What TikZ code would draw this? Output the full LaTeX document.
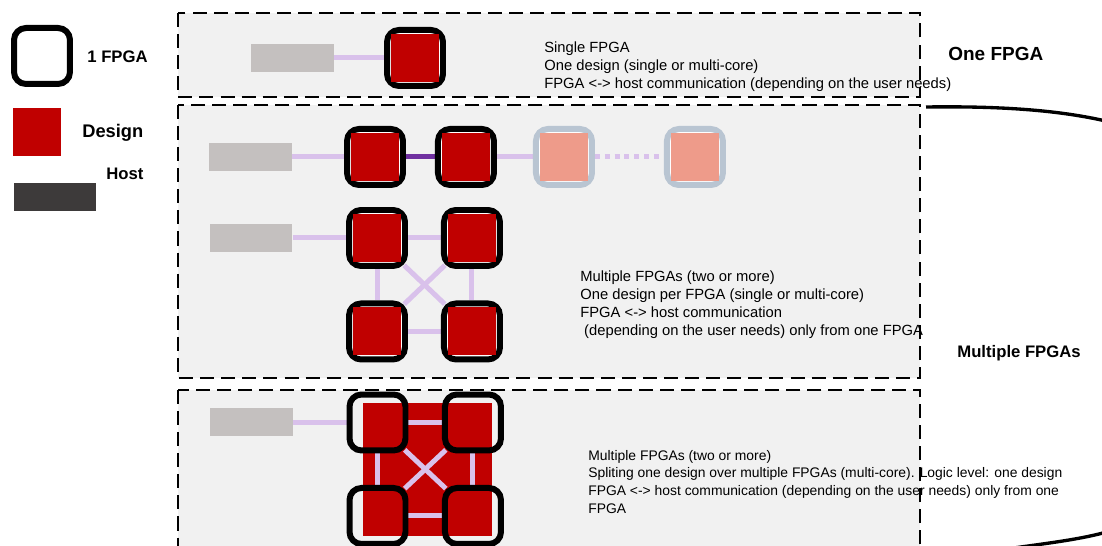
\documentclass[tikz,border=0pt]{standalone}
\usepackage{fontspec}
\setmainfont{Liberation Sans}
\usetikzlibrary{positioning}
\definecolor{designred}{HTML}{C00000}
\definecolor{sparered}{HTML}{EE9B8A}
\definecolor{spareline}{HTML}{B9C5D2}
\definecolor{hostgray}{HTML}{C4C0BF}
\definecolor{hostdark}{HTML}{3D3A3A}
\definecolor{linklight}{HTML}{D9C1EB}
\definecolor{linkdark}{HTML}{7030A0}
\definecolor{panelgray}{HTML}{F1F1F1}
\pgfdeclarelayer{panels}
\pgfdeclarelayer{links}
\pgfsetlayers{panels,links,main}
\tikzset{
x=0.02cm, y=-0.02cm, % one unit is one pixel of the sketch
fpga/.style={draw=black, fill=white, line width=0.12cm, rounded corners=0.24cm, minimum size=1.12cm, inner sep=0pt}, % frame of one FPGA
spare/.style={fpga, draw=spareline}, % an FPGA that can be added
design/.style={fill=designred, minimum size=0.96cm, inner sep=0pt}, % the red design block
host/.style={fill=hostgray, minimum width=1.66cm, minimum height=0.56cm, inner sep=0pt}, % the host
link/.style={draw=linklight, line width=0.1cm}, % connection between boxes
panel/.style={draw=black, fill=panelgray, line width=1.4pt, dash pattern=on 8pt off 4pt}, % dashed case box
note/.style={font=\fontsize{8.4}{10.3}\selectfont, align=left, anchor=north west, inner sep=0pt}, % explanation of a case
heading/.style={font=\fontsize{9.5}{11}\selectfont\bfseries, anchor=base west, inner sep=0pt}, % bold titles
}
\begin{document}
\begin{tikzpicture}
\useasboundingbox (0,0) rectangle (1102,546);

% legend
\node[fpga] (keyfpga) at (42,56) {};
\node[design] (keydesign) at (37,132) {};
\node[host, fill=hostdark] (keyhost) at (55,197) {};
\node[heading] (keyfpgatext) at (87,63) {1 FPGA};
\node[heading, font=\fontsize{10.4}{12}\selectfont\bfseries] (keydesigntext) at (82,138) {Design};
\node[heading] (keyhosttext) at (106,180) {Host};

% the three cases
\begin{pgfonlayer}{panels}
\draw[panel] (178,13) rectangle (920,97);
\draw[panel] (178,105) rectangle (920,378);
\draw[panel] (178,390) rectangle (920,560);
\node[design, minimum width=2.6cm, minimum height=2.66cm] (split4) at (427.5,469.5) {};
\end{pgfonlayer}

% single FPGA
\node[host] (host1) at (292.5,58) {};
\node[fpga] (fpga1) at (415,58) {};
\node[design] (core1) at (fpga1) {};

% chain of FPGAs
\node[host] (host2) at (250.5,157) {};
\node[fpga] (fpga2a) at (375,157) {};
\node[fpga, right=0.58cm of fpga2a] (fpga2b) {};
\node[spare, right=0.72cm of fpga2b] (fpga2c) {};
\node[spare, right=1.38cm of fpga2c] (fpga2d) {};
\node[design] (core2a) at (fpga2a) {};
\node[design] (core2b) at (fpga2b) {};
\node[design, fill=sparered] (core2c) at (fpga2c) {};
\node[design, fill=sparered] (core2d) at (fpga2d) {};

% grid of FPGAs
\node[host] (host3) at (251,238) {};
\node[fpga] (fpga3a) at (377,238) {};
\node[fpga, right=0.66cm of fpga3a] (fpga3b) {};
\node[fpga, below=0.63cm of fpga3a] (fpga3c) {};
\node[fpga, below=0.63cm of fpga3b] (fpga3d) {};
\foreach \n in {a,b,c,d}
  \node[design] (core3\n) at (fpga3\n) {};

% one design split over the FPGAs
\node[host] (host4) at (251.5,422.5) {};
\node[fpga, fill=none] (fpga4a) at (377.5,422.5) {};
\node[fpga, fill=none, right=0.67cm of fpga4a] (fpga4b) {};
\node[fpga, fill=none, below=0.63cm of fpga4a] (fpga4c) {};
\node[fpga, fill=none, below=0.63cm of fpga4b] (fpga4d) {};

\begin{pgfonlayer}{links}
\draw[link] (host1) -- (fpga1);
\draw[link] (host2) -- (fpga2a);
\draw[link, draw=linkdark] (fpga2a) -- (fpga2b);
\draw[link] (fpga2b) -- (fpga2c);
\draw[link, dash pattern=on 2.8pt off 2.8pt] (fpga2c) -- (fpga2d);
\foreach \k in {3,4} {
  \draw[link] (host\k) -- (fpga\k a);
  \draw[link] (fpga\k a) -- (fpga\k b);
  \draw[link] (fpga\k a) -- (fpga\k c);
  \draw[link] (fpga\k b) -- (fpga\k d);
  \draw[link] (fpga\k c) -- (fpga\k d);
  \draw[link, shorten <=-3pt, shorten >=-3pt] (fpga\k a.south east) -- (fpga\k d.north west);
  \draw[link, shorten <=-3pt, shorten >=-3pt] (fpga\k b.south west) -- (fpga\k c.north east);
}
\end{pgfonlayer}

% texts
\node[note] (note1) at (544,41) {Single FPGA\\One design (single or multi-core)\\FPGA <-> host communication (depending on the user needs)};
\node[note] (note2) at (580,270) {Multiple FPGAs (two or more)\\One design per FPGA (single or multi-core)\\FPGA <-> host communication\\\hspace*{2.2pt}(depending on the user needs) only from one FPGA};
\node[note, font=\fontsize{7.9}{10}\selectfont] (note3) at (588,450) {Multiple FPGAs (two or more)\\Spliting one design over multiple FPGAs (multi-core). Logic level: one design\\FPGA <-> host communication (depending on the user needs) only from one\\FPGA};
\node[heading, font=\fontsize{10.8}{12}\selectfont\bfseries] (onetext) at (948,61) {One FPGA};
\node[heading] (multitext) at (957,358) {Multiple FPGAs};

% bracket on the right
\draw[line width=1.9pt] (926,107) .. controls (1000,106) and (1060,110) .. (1110,122);
\draw[line width=1.9pt] (1000,550) .. controls (1040,544) and (1080,540) .. (1110,531);
\end{tikzpicture}
\end{document}
